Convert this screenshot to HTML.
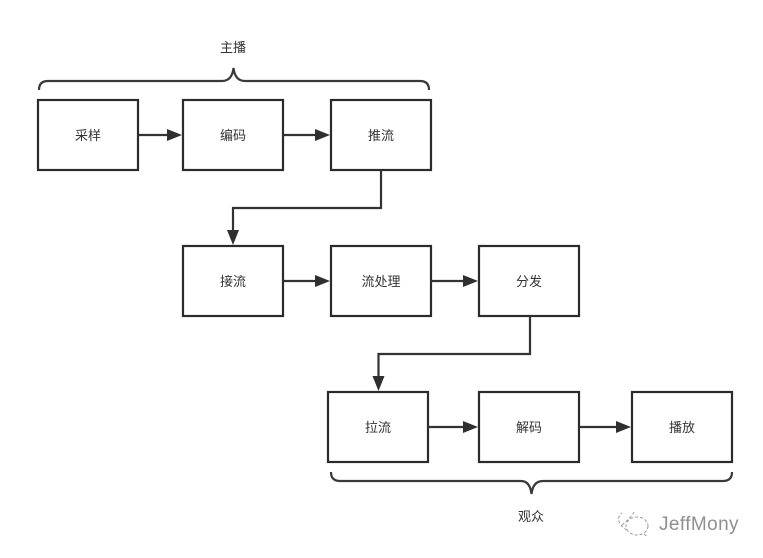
<!DOCTYPE html>
<html><head><meta charset="utf-8"><style>
html,body{margin:0;padding:0;background:#fff;width:763px;height:558px;overflow:hidden}
svg{display:block}
text{font-family:"Liberation Sans","Noto Sans CJK SC",sans-serif;font-size:13px;fill:#333;text-anchor:middle}
.b{fill:#fff;stroke:#2b2b2b;stroke-width:2.200}
.l{fill:none;stroke:#333;stroke-width:2.200}
.a{fill:#2f2f2f}
</style></head><body>
<svg width="763" height="558" viewBox="0 0 763 558" xmlns="http://www.w3.org/2000/svg">
<rect class="b" x="38" y="100" width="100" height="70"/>
<rect class="b" x="183" y="100" width="100" height="70"/>
<rect class="b" x="331" y="100" width="100" height="70"/>
<rect class="b" x="183" y="246" width="100" height="70"/>
<rect class="b" x="331" y="246" width="100" height="70"/>
<rect class="b" x="479" y="246" width="100" height="70"/>
<rect class="b" x="328" y="392" width="100" height="70"/>
<rect class="b" x="479" y="392" width="100" height="70"/>
<rect class="b" x="632" y="392" width="100" height="70"/>

<path class="l" d="M138 135H168"/><path class="a" d="M167 129L182 135L167 141Z"/>
<path class="l" d="M283 135H316"/><path class="a" d="M315 129L330 135L315 141Z"/>
<path class="l" d="M283 281H316"/><path class="a" d="M315 275L330 281L315 287Z"/>
<path class="l" d="M431 281H464"/><path class="a" d="M463 275L478 281L463 287Z"/>
<path class="l" d="M428 427H464"/><path class="a" d="M463 421L478 427L463 433Z"/>
<path class="l" d="M579 427H617"/><path class="a" d="M616 421L631 427L616 433Z"/>

<path class="l" d="M381 170V208H233V231"/><path class="a" d="M227 230L233 245L239 230Z"/>
<path class="l" d="M530 316V354H378.500V377"/><path class="a" d="M372.500 376L378.500 391L384.500 376Z"/>

<path class="l" style="stroke:#3a3a3a" d="M39 90Q39 81 48 81H222Q232 81 233.500 68Q235 81 245 81H420Q429 81 429 90"/>
<path class="l" style="stroke:#3a3a3a" d="M331 472Q331 481 340 481H521Q530 481 531.500 494Q533 481 543 481H723Q732 481 732 472"/>

<text x="88" y="140">采样</text>
<text x="233" y="140">编码</text>
<text x="381" y="140">推流</text>
<text x="233" y="286">接流</text>
<text x="381" y="286">流处理</text>
<text x="529" y="286">分发</text>
<text x="378" y="432">拉流</text>
<text x="529" y="432">解码</text>
<text x="682" y="432">播放</text>
<text x="233" y="52">主播</text>
<text x="531" y="521">观众</text>

<g fill="none" stroke="#999" stroke-width="1" stroke-dasharray="3 2">
<path d="M627 530C618 525 616 517 622 513"/>
<path d="M622 525C628 520 632 516 634 512"/>
<ellipse cx="637" cy="526" rx="11" ry="9"/>
<path d="M644 534L648 537"/>
</g>
<text x="699" y="530" style="font-size:19px;fill:#8f8f8f;letter-spacing:.4px">JeffMony</text>
</svg>
</body></html>
